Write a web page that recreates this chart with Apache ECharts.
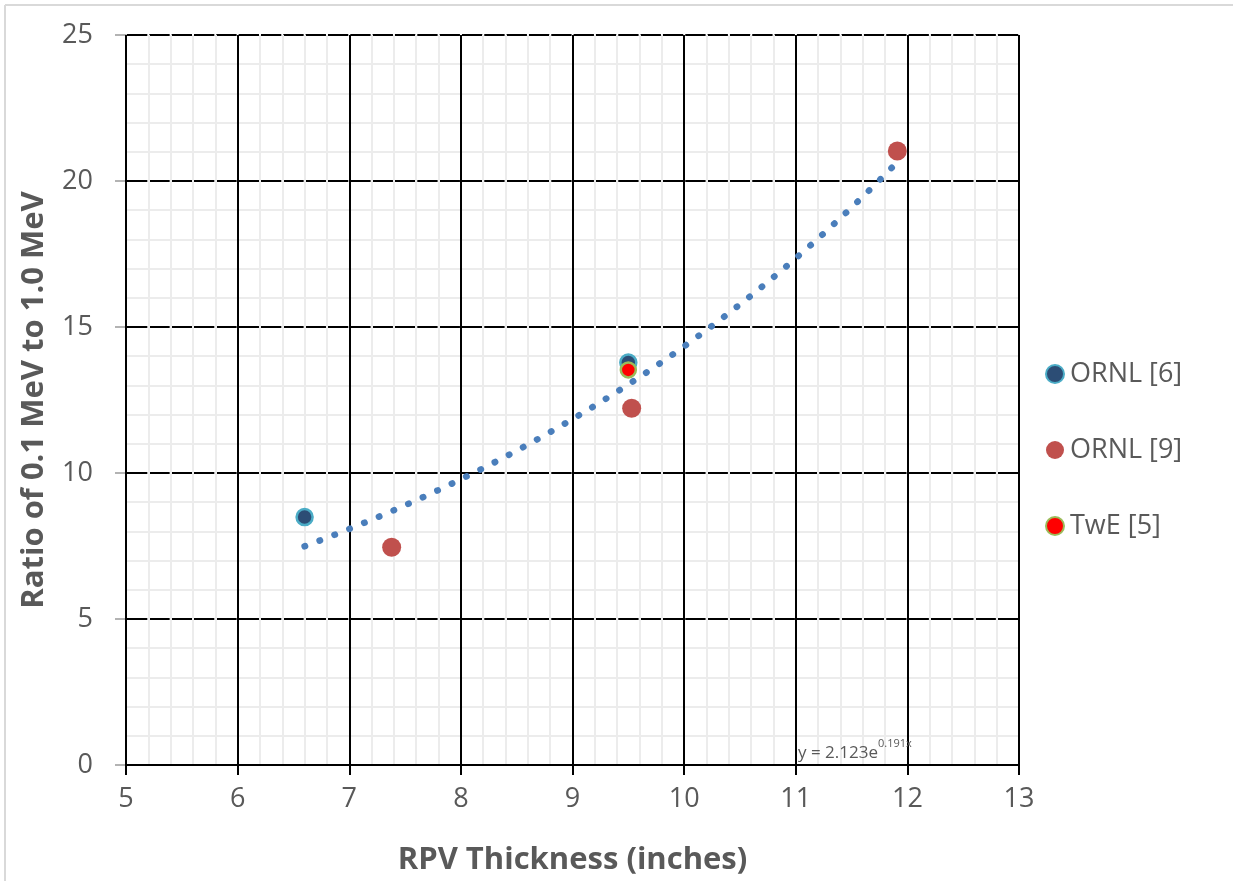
<!DOCTYPE html>
<html>
<head>
<meta charset="utf-8">
<script src="https://cdn.jsdelivr.net/npm/echarts@6/dist/echarts.min.js"></script>
<style>
  html, body { margin: 0; padding: 0; background: #fff; }
  #chart { width: 1233px; height: 881px; }
</style>
</head>
<body>
<div id="chart"></div>
<script>
// Measured points: RPV thickness (inches) vs. ratio of 0.1 MeV to 1.0 MeV flux
const ornl6X = [6.60, 9.50];
const ornl6Y = [8.49, 13.78];
const ornl9X = [7.38, 9.53, 11.91];
const ornl9Y = [7.46, 12.22, 21.03];
const tweX = [9.50];
const tweY = [13.53];

// Exponential fit y = A * e^(B x), as printed on the chart
const fitA = 2.123;
const fitB = 0.191;
const fitRange = [6.60, 11.91];
const fitSamples = 60;

// Axis ticks
const xTicks = [5, 6, 7, 8, 9, 10, 11, 12, 13];
const yTicks = [0, 5, 10, 15, 20, 25];

const fitLine = [];
for (let i = 0; i <= fitSamples; i++) {
  const x = fitRange[0] + (fitRange[1] - fitRange[0]) * i / fitSamples;
  fitLine.push([x, fitA * Math.exp(fitB * x)]);
}

const zip = (xs, ys) => xs.map((x, i) => [x, ys[i]]);
const FONT = '"Open Sans", "Liberation Sans", sans-serif';
const TXT = '#595959';

const chart = echarts.init(document.getElementById('chart'), null, { renderer: 'canvas' });

chart.setOption({
  backgroundColor: '#ffffff',
  animation: false,
  grid: { left: 126, right: 214, top: 35, bottom: 116, containLabel: false, outerBoundsMode: 'none' },
  xAxis: {
    type: 'value',
    min: xTicks[0], max: xTicks[xTicks.length - 1], interval: 1,
    name: 'RPV Thickness (inches)',
    nameLocation: 'middle', nameGap: 80,
    nameTextStyle: { fontFamily: FONT, fontSize: 31, fontWeight: 'bold', color: TXT },
    axisLine: { show: true, onZero: false, lineStyle: { color: '#000', width: 2 } },
    axisTick: { show: true, length: 10, lineStyle: { color: '#000', width: 2 } },
    axisLabel: { fontFamily: FONT, fontSize: 27, color: TXT, margin: 21 },
    splitLine: { show: true, lineStyle: { color: '#000', width: 2 } },
    minorTick: { show: false, splitNumber: 5 },
    minorSplitLine: { show: true, lineStyle: { color: '#ececec', width: 2 } },
    z: 1
  },
  yAxis: {
    type: 'value',
    min: yTicks[0], max: yTicks[yTicks.length - 1], interval: 5,
    name: 'Ratio of 0.1 MeV to 1.0 MeV',
    nameLocation: 'middle', nameGap: 76, nameRotate: 90,
    nameTextStyle: { fontFamily: FONT, fontSize: 31, fontWeight: 'bold', color: TXT },
    axisLine: { show: true, lineStyle: { color: '#b3b3b3', width: 2 } },
    axisTick: { show: true, length: 11, lineStyle: { color: '#b3b3b3', width: 2 } },
    axisLabel: { fontFamily: FONT, fontSize: 27, color: TXT, margin: 33 },
    splitLine: {
      show: true,
      lineStyle: { color: '#000', width: 2, type: [20.33, 2], dashOffset: -1 }
    },
    minorTick: { show: false, splitNumber: 5 },
    minorSplitLine: { show: true, lineStyle: { color: '#ececec', width: 2 } }
  },
  legend: {
    orient: 'vertical',
    left: 1040, top: 354,
    itemGap: 46,
    itemWidth: 18, itemHeight: 18,
    icon: 'circle',
    textStyle: { fontFamily: FONT, fontSize: 27, lineHeight: 30, color: TXT, padding: [0, 0, 0, 1] },
    data: ['ORNL [6]', 'ORNL [9]', 'TwE [5]']
  },
  series: [
    {
      name: 'fit',
      type: 'line',
      data: fitLine,
      showSymbol: false,
      smooth: false,
      lineStyle: { color: '#4a7ebb', width: 6.5, type: [0.5, 15.5], cap: 'round' },
      z: 2,
      silent: true
    },
    {
      name: 'ORNL [9]',
      type: 'scatter',
      data: zip(ornl9X, ornl9Y),
      symbolSize: 19,
      itemStyle: { color: '#c0504d', opacity: 1 },
      z: 3
    },
    {
      name: 'ORNL [6]',
      type: 'scatter',
      data: zip(ornl6X, ornl6Y),
      symbolSize: 16,
      itemStyle: { color: '#2c4d75', borderColor: '#4bacc6', borderWidth: 2.5, opacity: 1 },
      z: 4
    },
    {
      name: 'TwE [5]',
      type: 'scatter',
      data: zip(tweX, tweY),
      symbolSize: 15,
      itemStyle: { color: '#ff0000', borderColor: '#9bbb59', borderWidth: 2.5, opacity: 1 },
      z: 5
    }
  ],
  graphic: [
    // chart frame edges
    { type: 'line', shape: { x1: 5, y1: 5, x2: 1233, y2: 5 }, style: { stroke: '#d9d9d9', lineWidth: 2 }, silent: true },
    { type: 'line', shape: { x1: 5, y1: 5, x2: 5, y2: 881 }, style: { stroke: '#d9d9d9', lineWidth: 2 }, silent: true },
    // fit equation
    {
      type: 'text', left: 798, top: 738, z: 10,
      style: {
        text: '{b|y = 2.123e}{s|0.191x}',
        rich: {
          b: { fontFamily: FONT, fontSize: 17, fill: TXT, verticalAlign: 'bottom', lineHeight: 24 },
          s: { fontFamily: FONT, fontSize: 11, fill: TXT, verticalAlign: 'top', padding: [0, 0, 12, 0], lineHeight: 24 }
        }
      }
    }
  ]
});
</script>
</body>
</html>
